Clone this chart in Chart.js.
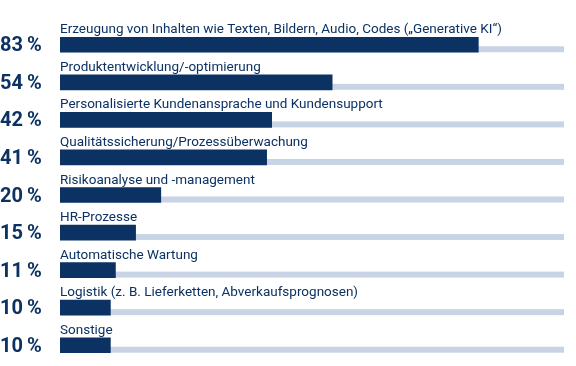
<!DOCTYPE html>
<html>
<head>
<meta charset="utf-8">
<script src="https://cdn.jsdelivr.net/npm/chart.js@4"></script>
<style>
  html, body { margin: 0; padding: 0; background: #ffffff; }
  #wrap { width: 576px; height: 366px; }
</style>
</head>
<body>
<div id="wrap"><canvas id="c" width="576" height="366"></canvas></div>
<script>
const categories = [
  'Erzeugung von Inhalten wie Texten, Bildern, Audio, Codes („Generative KI“)',
  'Produktentwicklung/-optimierung',
  'Personalisierte Kundenansprache und Kundensupport',
  'Qualitätssicherung/Prozessüberwachung',
  'Risikoanalyse und -management',
  'HR-Prozesse',
  'Automatische Wartung',
  'Logistik (z. B. Lieferketten, Abverkaufsprognosen)',
  'Sonstige'
];
const values = [83, 54, 42, 41, 20, 15, 11, 10, 10];
const percentLabels = ['83\u2009%', '54\u2009%', '42\u2009%', '41\u2009%', '20\u2009%', '15\u2009%', '11\u2009%', '10\u2009%', '10\u2009%'];
const trackMax = 100;

const NAVY = '#0c3263';
const TRACK = '#c8d4e5';
const LABEL_FONT = '13.5px Roboto';

const trackAndLabels = {
  id: 'trackAndLabels',
  beforeDatasetsDraw(chart) {
    const ctx = chart.ctx;
    const xs = chart.scales.x;
    const meta = chart.getDatasetMeta(0);
    ctx.save();
    ctx.fillStyle = TRACK;
    const x0 = xs.getPixelForValue(0);
    const x1 = xs.getPixelForValue(trackMax);
    meta.data.forEach(el => {
      const bottom = el.y + el.height / 2;
      ctx.fillRect(x0, bottom - 6, x1 - x0, 6);
    });
    ctx.restore();
  },
  afterDatasetsDraw(chart) {
    const ctx = chart.ctx;
    const xs = chart.scales.x;
    const meta = chart.getDatasetMeta(0);
    ctx.save();
    ctx.fillStyle = NAVY;
    ctx.font = LABEL_FONT;
    ctx.textBaseline = 'alphabetic';
    ctx.textAlign = 'left';
    meta.data.forEach((el, i) => {
      const top = el.y - el.height / 2;
      ctx.fillText(categories[i], xs.getPixelForValue(0), top - 4);
    });
    ctx.restore();
  }
};

new Chart(document.getElementById('c'), {
  type: 'bar',
  data: {
    labels: categories,
    datasets: [{
      data: values,
      backgroundColor: NAVY,
      borderWidth: 0,
      barThickness: 15
    }]
  },
  options: {
    indexAxis: 'y',
    responsive: false,
    devicePixelRatio: 1,
    animation: false,
    layout: { padding: { top: 26, bottom: 2, left: 0, right: 12 } },
    plugins: { legend: { display: false }, tooltip: { enabled: false } },
    scales: {
      x: { display: false, min: 0, max: trackMax },
      y: {
        grid: { display: false },
        border: { display: false },
        afterFit(scale) { scale.width = 60; scale.paddingTop = 0; scale.paddingBottom = 0; },
        ticks: {
          crossAlign: 'far',
          padding: 0,
          labelOffset: 1.5,
          color: NAVY,
          font: { family: 'Roboto', size: 20, weight: 'bold' },
          callback: (v, i) => percentLabels[i]
        }
      }
    }
  },
  plugins: [trackAndLabels]
});
</script>
</body>
</html>
